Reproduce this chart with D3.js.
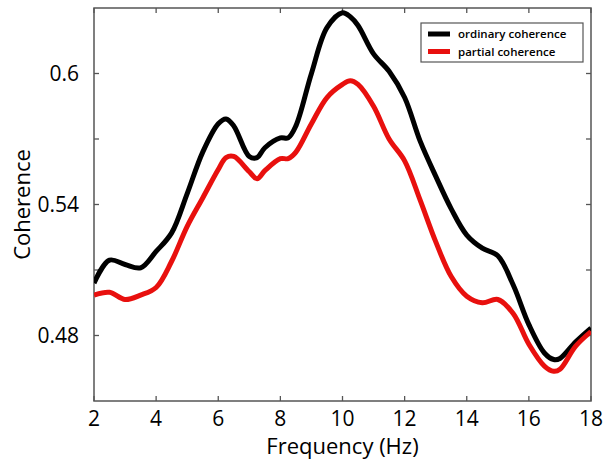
<!DOCTYPE html>
<html>
<head>
<meta charset="utf-8">
<script src="https://cdn.jsdelivr.net/npm/d3@7"></script>
<style>
  body { margin: 0; background: #fff; }
  text { font-family: "Open Sans", sans-serif; fill: #000; }
</style>
</head>
<body>
<svg id="chart" width="605" height="464"></svg>
<script>
// values
var freq = [2, 2.5, 3, 3.5, 4, 4.5, 5, 5.5, 6, 6.25, 6.5, 7, 7.25, 7.5, 8, 8.25, 8.5, 9, 9.5, 10, 10.25, 10.5, 11, 11.5, 12, 12.5, 13, 13.5, 14, 14.5, 15, 15.5, 16, 16.5, 16.8, 17, 17.5, 18];
var ordinary = [0.504, 0.5145, 0.5125, 0.511, 0.5185, 0.527, 0.545, 0.564, 0.577, 0.5792, 0.576, 0.562, 0.5615, 0.566, 0.5705, 0.5705, 0.576, 0.600, 0.621, 0.6278, 0.626, 0.622, 0.609, 0.601, 0.589, 0.569, 0.553, 0.538, 0.526, 0.520, 0.5165, 0.503, 0.485, 0.472, 0.469, 0.4695, 0.477, 0.4834];
var partial = [0.4985, 0.4998, 0.4965, 0.4985, 0.502, 0.514, 0.530, 0.543, 0.556, 0.5615, 0.562, 0.555, 0.5518, 0.5555, 0.561, 0.561, 0.564, 0.577, 0.589, 0.595, 0.5967, 0.595, 0.585, 0.570, 0.560, 0.542, 0.523, 0.507, 0.498, 0.495, 0.4965, 0.490, 0.476, 0.466, 0.4636, 0.4645, 0.475, 0.4818];
var xTicks = [2, 4, 6, 8, 10, 12, 14, 16, 18];
var yTicks = [0.48, 0.51, 0.54, 0.57, 0.6];
var yLabels = [0.48, 0.54, 0.6];
var seriesNames = ["ordinary coherence", "partial coherence"];
var seriesColors = ["#000000", "#e8100e"];

var svg = d3.select("#chart");
var margin = { top: 8, right: 14, bottom: 63, left: 94 };
var W = 605 - margin.left - margin.right,
    H = 464 - margin.top - margin.bottom;

var x = d3.scaleLinear().domain([2, 18]).range([0, W]);
var y = d3.scaleLinear().domain([0.45, 0.63]).range([H, 0]);

var g = svg.append("g").attr("transform", "translate(" + margin.left + "," + margin.top + ")");

var axisColor = "#555";

// frame
g.append("rect")
  .attr("x", 0).attr("y", 0).attr("width", W).attr("height", H)
  .attr("fill", "none").attr("stroke", axisColor).attr("stroke-width", 1.5);

// inward ticks on all four sides
xTicks.forEach(function(t) {
  g.append("line").attr("x1", x(t)).attr("x2", x(t)).attr("y1", H).attr("y2", H - 5)
    .attr("stroke", axisColor).attr("stroke-width", 1.3);
  g.append("line").attr("x1", x(t)).attr("x2", x(t)).attr("y1", 0).attr("y2", 5)
    .attr("stroke", axisColor).attr("stroke-width", 1.3);
  g.append("text").attr("x", x(t)).attr("y", H + 25)
    .attr("text-anchor", "middle").attr("font-size", 21).text(t);
});
yTicks.forEach(function(t) {
  g.append("line").attr("x1", 0).attr("x2", 5).attr("y1", y(t)).attr("y2", y(t))
    .attr("stroke", axisColor).attr("stroke-width", 1.3);
  g.append("line").attr("x1", W).attr("x2", W - 5).attr("y1", y(t)).attr("y2", y(t))
    .attr("stroke", axisColor).attr("stroke-width", 1.3);
});
yLabels.forEach(function(t) {
  g.append("text").attr("x", -15).attr("y", y(t)).attr("dy", "0.35em")
    .attr("text-anchor", "end").attr("font-size", 21).text(t);
});

// axis titles
g.append("text").attr("x", W / 2).attr("y", H + 53)
  .attr("text-anchor", "middle").attr("font-size", 22).text("Frequency (Hz)");
svg.append("text")
  .attr("transform", "translate(30," + (margin.top + H / 2) + ") rotate(-90)")
  .attr("text-anchor", "middle").attr("font-size", 22).text("Coherence");

// curves
var line = d3.line()
  .x(function(d) { return x(d[0]); })
  .y(function(d) { return y(d[1]); })
  .curve(d3.curveCatmullRom.alpha(0.5));

var clip = svg.append("defs").append("clipPath").attr("id", "clip");
clip.append("rect").attr("x", 0).attr("y", 0).attr("width", W).attr("height", H);

var curves = g.append("g").attr("clip-path", "url(#clip)");
[ordinary, partial].forEach(function(vals, i) {
  curves.append("path")
    .datum(freq.map(function(f, j) { return [f, vals[j]]; }))
    .attr("d", line)
    .attr("fill", "none")
    .attr("stroke", seriesColors[i])
    .attr("stroke-width", 5)
    .attr("stroke-linejoin", "round");
});

// legend
var lg = g.append("g").attr("transform", "translate(" + (W - 170) + ",15)");
lg.append("rect").attr("width", 162).attr("height", 39)
  .attr("fill", "#fff").attr("stroke", axisColor).attr("stroke-width", 1.2);
seriesNames.forEach(function(name, i) {
  var yy = 11 + i * 17.5;
  lg.append("line").attr("x1", 7).attr("x2", 29).attr("y1", yy).attr("y2", yy)
    .attr("stroke", seriesColors[i]).attr("stroke-width", 5);
  lg.append("text").attr("x", 37).attr("y", yy).attr("dy", "0.35em")
    .attr("font-size", 11.5).attr("font-weight", 600).text(name);
});
</script>
</body>
</html>
